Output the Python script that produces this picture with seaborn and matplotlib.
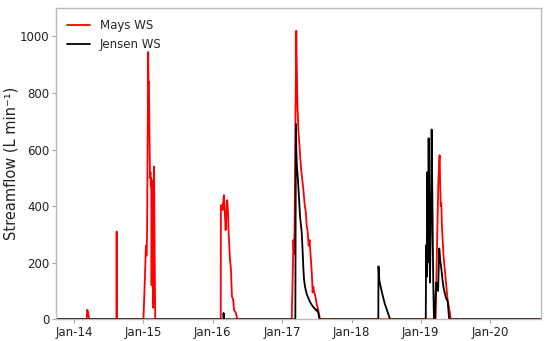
import pandas as pd
import matplotlib
matplotlib.use("Agg")
import matplotlib.pyplot as plt
import matplotlib.dates as mdates
import seaborn as sns

# streamflow readings (L min-1)
mays_dates = [
    "2013-09-28",
    "2014-03-08", "2014-03-11", "2014-03-14", "2014-03-18", "2014-03-21",
    "2014-08-12", "2014-08-13", "2014-08-14",
    "2015-01-01", "2015-01-08", "2015-01-13", "2015-01-15", "2015-01-17",
    "2015-01-20", "2015-01-26", "2015-01-28", "2015-01-30", "2015-02-01",
    "2015-02-03", "2015-02-05", "2015-02-07", "2015-02-09", "2015-02-11",
    "2015-02-13", "2015-02-16", "2015-02-19", "2015-02-22", "2015-02-26",
    "2015-03-01", "2015-03-04",
    "2016-02-12", "2016-02-13", "2016-02-18", "2016-02-22", "2016-02-25",
    "2016-02-29", "2016-03-03", "2016-03-09", "2016-03-12", "2016-03-17",
    "2016-03-21", "2016-03-24", "2016-03-31", "2016-04-06", "2016-04-11",
    "2016-04-18", "2016-04-22", "2016-05-02", "2016-05-09",
    "2017-02-20", "2017-02-25", "2017-03-01", "2017-03-04", "2017-03-07",
    "2017-03-11", "2017-03-16", "2017-03-19", "2017-03-22", "2017-03-27",
    "2017-04-01", "2017-04-05", "2017-04-12", "2017-04-22", "2017-04-30",
    "2017-05-05", "2017-05-10", "2017-05-15", "2017-05-20", "2017-05-25",
    "2017-05-28", "2017-06-02", "2017-06-06", "2017-06-10", "2017-06-14",
    "2017-06-18", "2017-06-23", "2017-07-01", "2017-07-10", "2017-07-19",
    "2019-03-20", "2019-03-27", "2019-04-03", "2019-04-08", "2019-04-10",
    "2019-04-13", "2019-04-16", "2019-04-19", "2019-04-22", "2019-04-26",
    "2019-05-01", "2019-05-06", "2019-05-11", "2019-05-16", "2019-05-22",
    "2019-05-28", "2019-06-03", "2019-06-08",
    "2020-09-26",
]
mays_flow = [
    0,
    0, 33, 28, 12, 0,
    0, 310, 0,
    0, 130, 240, 260, 225,
    290, 945, 830, 840, 720,
    580, 500, 520, 470, 500,
    120, 490, 200, 40, 540,
    250, 0,
    0, 403, 403, 386, 415,
    439, 397, 315, 362, 421,
    386, 315, 221, 174, 80,
    68, 33, 22, 0,
    0, 150, 280, 230, 320,
    650, 1020, 880, 760, 670,
    620, 580, 520, 460, 400,
    380, 330, 310, 260, 280,
    250, 200, 160, 95, 115,
    95, 85, 55, 30, 0,
    0, 250, 480, 560, 580,
    470, 400, 410, 330, 280,
    220, 185, 150, 110, 70,
    45, 21, 0,
    0,
]

jensen_dates = [
    "2013-09-28",
    "2016-02-26", "2016-02-27", "2016-02-29",
    "2017-03-11", "2017-03-14", "2017-03-16", "2017-03-19", "2017-03-23",
    "2017-03-27", "2017-04-01", "2017-04-05", "2017-04-10", "2017-04-14",
    "2017-04-19", "2017-04-23", "2017-04-26", "2017-05-01", "2017-05-06",
    "2017-05-12", "2017-05-19", "2017-05-28", "2017-06-06", "2017-06-15",
    "2017-06-23", "2017-06-30", "2017-07-04", "2017-07-10", "2017-07-16",
    "2018-05-22", "2018-05-23", "2018-05-28", "2018-06-10", "2018-06-25",
    "2018-07-10", "2018-07-23",
    "2019-01-27", "2019-01-29", "2019-02-01", "2019-02-04", "2019-02-07",
    "2019-02-11", "2019-02-15", "2019-02-18", "2019-02-22", "2019-02-27",
    "2019-03-03", "2019-03-07", "2019-03-11", "2019-03-16", "2019-03-20",
    "2019-03-24", "2019-03-28", "2019-04-02", "2019-04-08", "2019-04-13",
    "2019-04-18", "2019-04-25", "2019-05-01", "2019-05-08", "2019-05-13",
    "2019-05-18", "2019-05-23", "2019-05-30",
    "2020-09-26",
]
jensen_flow = [
    0,
    0, 22, 0,
    0, 690, 600, 545, 510,
    468, 410, 362, 330, 304,
    233, 170, 140, 115, 100,
    85, 74, 60, 50, 42,
    36, 30, 35, 22, 0,
    0, 187, 135, 95, 55,
    25, 0,
    0, 262, 150, 520, 200,
    640, 380, 130, 300, 671,
    420, 150, 0, 0, 90,
    130, 110, 100, 250, 210,
    185, 140, 110, 90, 75,
    70, 60, 0,
    0,
]

year_ticks = ["2014-01-01", "2015-01-01", "2016-01-01", "2017-01-01",
              "2018-01-01", "2019-01-01", "2020-01-01"]
y_ticks = [0, 200, 400, 600, 800, 1000]

mays = pd.DataFrame({"Date": pd.to_datetime(mays_dates), "Flow": mays_flow})
jensen = pd.DataFrame({"Date": pd.to_datetime(jensen_dates), "Flow": jensen_flow})

sns.set_theme(style="ticks")
plt.rcParams["font.family"] = ["DejaVu Sans"]

fig, ax = plt.subplots(figsize=(5.5, 3.41), dpi=100)
fig.subplots_adjust(left=0.102, right=0.984, top=0.976, bottom=0.064)

sns.lineplot(data=mays, x="Date", y="Flow", color="#ff0000", linewidth=1.3,
             label="Mays WS", ax=ax)
sns.lineplot(data=jensen, x="Date", y="Flow", color="black", linewidth=1.3,
             label="Jensen WS", ax=ax)

ax.set_xlim(pd.Timestamp("2013-09-28"), pd.Timestamp("2020-09-26"))
ax.set_ylim(0, 1100)
ax.set_xticks(pd.to_datetime(year_ticks))
ax.xaxis.set_major_formatter(mdates.DateFormatter("%b-%y"))
ax.set_yticks(y_ticks)

ax.set_xlabel("")
ax.set_ylabel("Streamflow (L min\u207b\u00b9)", fontsize=10.5, color="#222222",
              labelpad=1)
ax.tick_params(axis="both", labelsize=8.5, labelcolor="#222222",
               color="#aaaaaa", length=3, width=0.8, pad=2)
for spine in ax.spines.values():
    spine.set_color("#bbbbbb")
    spine.set_linewidth(1.0)

ax.legend(loc="upper left", frameon=False, fontsize=8.5)

fig.savefig("out.png", dpi=100)
